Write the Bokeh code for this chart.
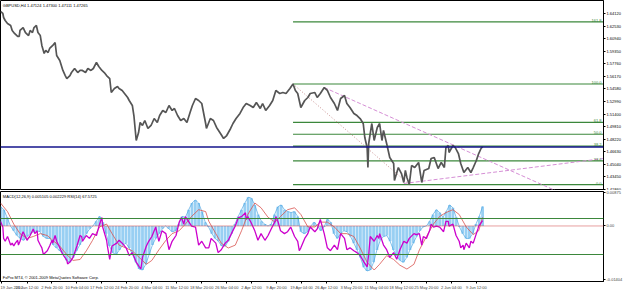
from bokeh.plotting import figure
from bokeh.layouts import column
from bokeh.models import Range1d, FixedTicker, PrintfTickFormatter, Label, Span
from bokeh.embed import file_html
from bokeh.resources import INLINE

FONT = "Liberation Sans"

symbol_title = "GBPUSD,H4  1.47124 1.47300 1.47111 1.47265"
ind_title = "MACD(12,26,9) 0.005105 0.002229 RSI(14) 67.5725"
footer = "FxPro MT4, \u00a9 2001-2009 MetaQuotes Software Corp."

# ---- price (H4 bar index, close) ----
price_bar = [0, 3, 4, 6, 9, 13, 15, 18, 22, 24, 25, 29, 32, 36, 38, 41, 43, 46, 48, 51,
             53, 56, 58, 61, 63, 67, 70, 72, 76, 80, 83, 85, 89, 91, 95, 99, 102, 105, 109, 112,
             116, 119, 123, 126, 130, 133, 136, 140, 142, 146, 150, 152, 156, 159, 163, 165, 169, 171, 174, 177,
             179, 182, 185, 189, 193, 197, 201, 204, 208, 212, 216, 220, 223, 227, 231, 235, 239, 243, 246, 250,
             254, 258, 263, 264, 269, 273, 277, 282, 286, 290, 295, 298, 302, 307, 311, 315, 320, 324, 328, 333,
             336, 340, 345, 349, 353, 358, 362, 366, 371, 375, 378, 381, 385, 390, 394, 397, 403, 406, 410, 415,
             419, 423, 428, 432, 436, 441, 444, 448, 453, 457, 461, 465, 467, 470, 471, 472, 476, 479, 483, 486,
             489, 491, 495, 499, 504, 505, 510, 514, 517, 519, 521, 524, 527, 531, 536, 540, 543, 549, 552, 556,
             561, 565, 569, 571, 574, 575, 580, 583, 587, 590, 594, 599, 603, 606, 610, 613, 616, 618]
price_close = [1.6437, 1.6412, 1.6361, 1.6323, 1.6285, 1.6260, 1.6197, 1.6159, 1.6121, 1.6121,
               1.6197, 1.6234, 1.6171, 1.6133, 1.6197, 1.6171, 1.6234, 1.6260, 1.6171, 1.6133,
               1.6007, 1.5906, 1.5944, 1.5918, 1.5969, 1.6007, 1.6045, 1.5880, 1.5817, 1.5691,
               1.5627, 1.5589, 1.5627, 1.5665, 1.5716, 1.5665, 1.5691, 1.5691, 1.5665, 1.5716,
               1.5691, 1.5716, 1.5792, 1.5741, 1.5691, 1.5665, 1.5627, 1.5589, 1.5412, 1.5463,
               1.5488, 1.5463, 1.5438, 1.5400, 1.5349, 1.5311, 1.5248, 1.5121, 1.4805, 1.4906,
               1.5033, 1.4995, 1.5058, 1.4957, 1.4995, 1.5083, 1.5033, 1.5121, 1.5185, 1.5159,
               1.5248, 1.5185, 1.5210, 1.5121, 1.5058, 1.5083, 1.5033, 1.5159, 1.5248, 1.5336,
               1.5311, 1.5273, 1.5020, 1.4957, 1.5083, 1.5058, 1.4970, 1.4894, 1.4831, 1.4868,
               1.4957, 1.5020, 1.5083, 1.5147, 1.5222, 1.5273, 1.5248, 1.5222, 1.5286, 1.5210,
               1.5273, 1.5185, 1.5248, 1.5311, 1.5438, 1.5400, 1.5412, 1.5400, 1.5463, 1.5520,
               1.5438, 1.5400, 1.5222, 1.5311, 1.5349, 1.5400, 1.5412, 1.5349, 1.5400, 1.5475,
               1.5438, 1.5349, 1.5273, 1.5185, 1.5336, 1.5374, 1.5273, 1.5222, 1.5147, 1.5121,
               1.5083, 1.5020, 1.4843, 1.4716, 1.4463, 1.4767, 1.5020, 1.4805, 1.4970, 1.5020,
               1.4805, 1.4932, 1.4767, 1.4590, 1.4514, 1.4299, 1.4463, 1.4387, 1.4274, 1.4426,
               1.4337, 1.4248, 1.4489, 1.4463, 1.4527, 1.4274, 1.4426, 1.4451, 1.4577, 1.4590,
               1.4451, 1.4527, 1.4463, 1.4716, 1.4742, 1.4653, 1.4742, 1.4716, 1.4640, 1.4514,
               1.4400, 1.4463, 1.4400, 1.4463, 1.4552, 1.4640, 1.4704, 1.4727]

price_ticks = [1.6412, 1.6253, 1.6094, 1.5935, 1.5776, 1.5617, 1.5458, 1.5299, 1.5140,
               1.4981, 1.4822, 1.4663, 1.4504, 1.4345, 1.4186]

# Fibonacci retracement object
fib_high_bar, fib_high = 375, 1.5520
fib_low_bar, fib_low = 524, 1.4248
fib_ratios = [0.0, 0.236, 0.382, 0.5, 0.618, 1.0, 1.618]
fib_names = ["0.0", "23.6", "38.2", "50.0", "61.8", "100.0", "161.8"]

hline_price = 1.4723
last_close = "1.47265"

trend_down_bar = [415, 711]
trend_down_price = [1.5475, 1.4173]
trend_up_bar = [517, 773]
trend_up_price = [1.4261, 1.4577]

# ---- MACD histogram (sampled evenly over bars 0..618) ----
macd_hist = [0.005, 0.00425, 0.00225, 0.0, -0.00125, -0.0025, -0.00325, -0.00375, -0.00275, -0.002,
             -0.0015, -0.00125, -0.0015, -0.00275, -0.00325, -0.00325, -0.005, -0.00575, -0.0065, -0.0075,
             -0.009, -0.0095, -0.00825, -0.0065, -0.005, -0.00325, -0.002, -0.00075, 0.0, 0.00125,
             0.0025, 0.001, -0.002, -0.00525, -0.007, -0.0075, -0.00625, -0.005, -0.0045, -0.00575,
             -0.0075, -0.0095, -0.01125, -0.0115, -0.01, -0.0075, -0.005, -0.00325, -0.002, -0.00075,
             0.0, -0.00075, -0.0015, -0.00125, 0.0005, 0.0025, 0.00225, 0.00425, 0.006, 0.00675,
             0.006, 0.00375, 0.001, -0.00025, -0.002, -0.00325, -0.004, -0.00525, -0.00525, -0.004,
             -0.002, 0.0005, 0.0025, 0.00425, 0.006, 0.0075, 0.00725, 0.0055, 0.003, 0.00125,
             0.0005, 0.0, 0.0005, 0.003, 0.005, 0.0055, 0.00425, 0.00375, 0.0035, 0.00375,
             0.0025, -0.0015, -0.002, -0.0015, 0.0, 0.001, 0.0, -0.00125, -0.00025, 0.00175,
             0.001, -0.002, -0.00325, -0.002, -0.00125, -0.0015, -0.00275, -0.0045, -0.00625, -0.00825,
             -0.01075, -0.01175, -0.0115, -0.0095, -0.00625, -0.00375, -0.00275, -0.0025, -0.004, -0.00625,
             -0.00775, -0.009, -0.0095, -0.00825, -0.00625, -0.0045, -0.00275, -0.00125, -0.00025, 0.0,
             0.00125, 0.003, 0.00425, 0.0035, 0.00225, 0.00375, 0.0055, 0.00475, 0.00225, -0.00025,
             -0.002, -0.00325, -0.00325, -0.002, 0.0005, 0.0025, 0.0051]

signal_bar = [0, 9, 17, 25, 34, 42, 51, 60, 67, 76, 85, 93, 102, 110, 118, 127, 136, 143, 152, 161,
              169, 178, 187, 194, 203, 212, 220, 229, 237, 245, 254, 263, 267, 276, 283, 292, 301, 309, 317, 326,
              334, 343, 352, 359, 368, 377, 385, 394, 403, 410, 419, 428, 436, 444, 453, 461, 470, 479, 486, 495,
              504, 512, 521, 530, 537, 546, 555, 563, 571, 580, 588, 597, 606, 613, 618]
signal_val = [0.006, 0.00375, 0.0005, -0.002, -0.00325, -0.00275, -0.002, -0.0025, -0.00375, -0.00525,
              -0.0075, -0.009, -0.00875, -0.0065, -0.00375, -0.00025, 0.0005, -0.002, -0.005, -0.00575,
              -0.0065, -0.00825, -0.01, -0.009, -0.00625, -0.00375, -0.002, -0.00125, 0.0005, 0.0025,
              0.00425, 0.00375, 0.00125, -0.002, -0.0045, -0.00575, -0.005, -0.00125, 0.003, 0.006,
              0.00475, 0.00225, 0.001, 0.0025, 0.00425, 0.00475, 0.003, -0.00025, -0.00025, 0.001,
              0.001, -0.00025, -0.002, -0.002, -0.00275, -0.00575, -0.0095, -0.0115, -0.01, -0.00775,
              -0.00875, -0.01025, -0.01125, -0.01, -0.00625, -0.00275, 0.0005, 0.0025, 0.0035, 0.00425,
              0.003, -0.00025, -0.00225, -0.00125, 0.00225]

rsi_bar = [0, 3, 4, 6, 9, 10, 13, 15, 17, 19, 22, 23, 25, 28, 29, 34, 38, 42, 44, 47,
           48, 51, 53, 55, 60, 63, 66, 67, 70, 72, 76, 80, 85, 86, 89, 93, 98, 102, 104, 105,
           110, 114, 118, 123, 127, 130, 131, 136, 137, 140, 143, 149, 152, 156, 161, 165, 169, 174, 178, 180,
           182, 187, 190, 194, 199, 203, 207, 212, 216, 220, 225, 229, 232, 235, 237, 241, 245, 250, 254, 258,
           263, 267, 270, 276, 279, 283, 288, 292, 296, 301, 305, 309, 314, 315, 317, 321, 326, 330, 334, 339,
           343, 347, 352, 353, 356, 359, 364, 368, 372, 377, 381, 383, 385, 390, 394, 397, 403, 406, 410, 415,
           419, 423, 428, 432, 436, 441, 444, 448, 453, 457, 461, 466, 470, 472, 474, 479, 483, 485, 486, 491,
           495, 499, 504, 508, 512, 517, 521, 524, 530, 533, 537, 540, 542, 546, 550, 552, 555, 559, 563, 568,
           571, 574, 575, 580, 584, 588, 590, 593, 594, 597, 601, 603, 606, 610, 612, 613, 618]
rsi_val = [66.8, 60.5, 47.9, 44.7, 50.0, 47.9, 40.5, 42.6, 39.5, 42.6, 45.8, 40.5, 44.7, 53.2, 55.3, 45.8, 51.1, 58.4, 53.2, 56.3,
           45.8, 40.5, 37.4, 30.0, 34.2, 39.5, 45.8, 42.6, 51.1, 44.7, 37.4, 30.0, 23.7, 19.5, 21.6, 26.8, 39.5, 51.1, 50.0, 44.7,
           51.1, 47.9, 53.2, 51.1, 63.7, 71.1, 60.5, 45.8, 39.5, 24.7, 39.5, 42.6, 45.8, 42.6, 37.4, 28.9, 32.1, 21.6, 16.3, 14.2,
           26.8, 39.5, 44.7, 50.0, 60.5, 44.7, 56.3, 53.2, 35.3, 44.7, 51.1, 65.8, 71.1, 63.7, 72.1, 66.8, 61.6, 60.5, 40.5, 44.7,
           37.4, 37.4, 47.9, 42.6, 32.1, 35.3, 42.6, 45.8, 53.2, 61.6, 71.1, 72.1, 76.3, 68.9, 72.1, 65.8, 56.3, 45.8, 53.2, 45.8,
           51.1, 58.4, 66.8, 72.1, 65.8, 56.3, 53.2, 55.3, 60.5, 50.0, 44.7, 34.2, 37.4, 47.9, 53.2, 60.5, 55.3, 58.4, 68.9, 53.2,
           37.4, 34.2, 40.5, 35.3, 53.2, 47.9, 35.3, 37.4, 34.2, 32.1, 28.9, 21.6, 16.3, 30.0, 50.0, 44.7, 51.1, 47.9, 53.2, 40.5,
           35.3, 26.8, 32.1, 24.7, 35.3, 44.7, 42.6, 47.9, 53.2, 52.0, 53.2, 40.5, 50.0, 47.9, 56.3, 63.7, 60.5, 61.6, 60.5, 55.3,
           66.8, 66.8, 61.6, 63.7, 51.1, 44.7, 37.4, 40.5, 35.3, 42.6, 37.4, 44.7, 42.6, 53.2, 58.4, 61.6, 67.6]
rsi_levels = [70, 30]
rsi_level_names = ["70", "30"]

macd_ticks = [0.00875, 0.0, -0.01404]
macd_tick_names = {0.00875: "0.00875", 0.0: "0.00", -0.01404: "-0.01404"}

time_ticks = [1, 34, 66, 98, 130, 162, 194, 226, 258, 290, 322, 354, 386, 418, 450, 482, 514, 546, 578, 610]
time_labels = ["19 Jan 2010", "26 Jan 12:00", "2 Feb 20:00", "10 Feb 04:00", "17 Feb 12:00",
               "24 Feb 20:00", "4 Mar 04:00", "11 Mar 12:00", "18 Mar 20:00", "26 Mar 04:00",
               "2 Apr 12:00", "9 Apr 20:00", "19 Apr 04:00", "26 Apr 12:00", "3 May 20:00",
               "11 May 04:00", "18 May 12:00", "25 May 20:00", "2 Jun 04:00", "9 Jun 12:00"]

N_SLOTS = 773
PRICE_TOP, PRICE_BOTTOM = 1.6576, 1.41725
FS = "4px"
GREEN = "#3b873b"

# ================= main price window =================
p1 = figure(width=625, height=190, x_range=Range1d(0, N_SLOTS), y_range=Range1d(PRICE_BOTTOM, PRICE_TOP),
            output_backend="svg", toolbar_location=None, y_axis_location="right", x_axis_location=None,
            min_border_left=0, min_border_right=19, min_border_top=0, min_border_bottom=0,
            outline_line_color="black", background_fill_color="white", border_fill_color="white")
p1.grid.visible = False
ay = p1.yaxis[0]
ay.ticker = FixedTicker(ticks=price_ticks)
ay.formatter = PrintfTickFormatter(format="%.5f")
ay.major_label_text_font = FONT
ay.major_label_text_font_size = FS
ay.major_label_text_color = "black"
ay.major_tick_in = 0
ay.major_tick_out = 2
ay.minor_tick_in = 0
ay.minor_tick_out = 0
ay.major_label_standoff = 1
ay.axis_line_color = "black"

fib_prices = [fib_low + r * (fib_high - fib_low) for r in fib_ratios]
p1.segment(x0=[fib_high_bar] * len(fib_prices), x1=[N_SLOTS] * len(fib_prices),
           y0=fib_prices, y1=fib_prices, line_color=GREEN, line_width=1.2)
for name, pr in zip(fib_names, fib_prices):
    p1.add_layout(Label(x=N_SLOTS, y=pr, x_offset=-2, y_offset=0, text=name, text_align="right",
                        text_baseline="bottom", text_font=FONT, text_font_size=FS, text_color=GREEN))

p1.line([fib_high_bar, fib_low_bar], [fib_high, fib_low], line_color="#c98f8f", line_dash="1 2", line_width=1)
p1.line(trend_down_bar, trend_down_price, line_color="#d58fd5", line_dash="4 2", line_width=1)
p1.line(trend_up_bar, trend_up_price, line_color="#d58fd5", line_dash="4 2", line_width=1)
p1.add_layout(Span(location=hline_price, dimension="width", line_color="#14148c", line_width=1.6))
p1.line(price_bar, price_close, line_color="#555555", line_width=1.7)

p1.add_layout(Label(x=3, y=PRICE_TOP - 0.0063, text=symbol_title, text_baseline="middle",
                    text_font=FONT, text_font_size=FS, text_color="black"))
p1.add_layout(Label(x=N_SLOTS, y=hline_price, x_offset=1, text=last_close, text_baseline="middle",
                    text_font=FONT, text_font_size=FS, text_color="white",
                    background_fill_color="#14148c"))

# ================= indicator window =================
p2 = figure(width=625, height=102, x_range=p1.x_range, y_range=Range1d(-0.0145, 0.009),
            output_backend="svg", toolbar_location=None, y_axis_location="right",
            min_border_left=0, min_border_right=19, min_border_top=1, min_border_bottom=0,
            outline_line_color="black", background_fill_color="white", border_fill_color="white")
p2.extra_y_ranges = {"rsi": Range1d(0, 100)}
p2.grid.visible = False

a2 = p2.yaxis[0]
a2.ticker = FixedTicker(ticks=macd_ticks)
a2.major_label_overrides = macd_tick_names
a2.major_label_text_font = FONT
a2.major_label_text_font_size = FS
a2.major_tick_in = 0
a2.major_tick_out = 2
a2.minor_tick_in = 0
a2.minor_tick_out = 0
a2.major_label_standoff = 1
a2.axis_line_color = "black"

ax = p2.xaxis[0]
ax.ticker = FixedTicker(ticks=time_ticks)
ax.major_label_overrides = {t: lab for t, lab in zip(time_ticks, time_labels)}
ax.major_label_text_font = FONT
ax.major_label_text_font_size = FS
ax.major_label_text_align = "left"
ax.major_tick_in = 0
ax.major_tick_out = 2
ax.minor_tick_in = 0
ax.minor_tick_out = 0
ax.major_label_standoff = 1
ax.axis_line_color = "black"

last_bar = price_bar[-1]
hist_step = last_bar / (len(macd_hist) - 1)
hist_bar = [i * hist_step for i in range(len(macd_hist))]
p2.vbar(x=hist_bar, top=macd_hist, bottom=0, width=hist_step * 0.85, fill_color="#98cff3", line_color=None)
p2.line(hist_bar, macd_hist, line_color="#4ea6e3", line_width=0.7)

for lv in rsi_levels:
    p2.add_layout(Span(location=lv, dimension="width", y_range_name="rsi", line_color=GREEN, line_width=1.2))
p2.add_layout(Span(location=0, dimension="width", line_color="#d04040", line_dash="1 1", line_width=1))

p2.line(signal_bar, signal_val, line_color="#d9534f", line_width=0.8)
p2.line(rsi_bar, rsi_val, line_color="#cc00cc", line_width=1.3, y_range_name="rsi")

for lv, nm in zip(rsi_levels, rsi_level_names):
    p2.add_layout(Label(x=N_SLOTS, y=lv, y_range_name="rsi", x_offset=0, text=nm, text_baseline="middle",
                        text_font=FONT, text_font_size="3.5px", text_color="black",
                        background_fill_color="#3b9a3b", border_line_color="black"))

p2.add_layout(Label(x=3, y=0.0078, text=ind_title, text_baseline="middle",
                    text_font=FONT, text_font_size=FS, text_color="black"))
p2.add_layout(Label(x=3, y=-0.0135, text=footer, text_baseline="middle",
                    text_font=FONT, text_font_size=FS, text_color="black"))

layout = column(p1, p2, spacing=0)
open("out.html", "w").write(file_html(layout, INLINE))
